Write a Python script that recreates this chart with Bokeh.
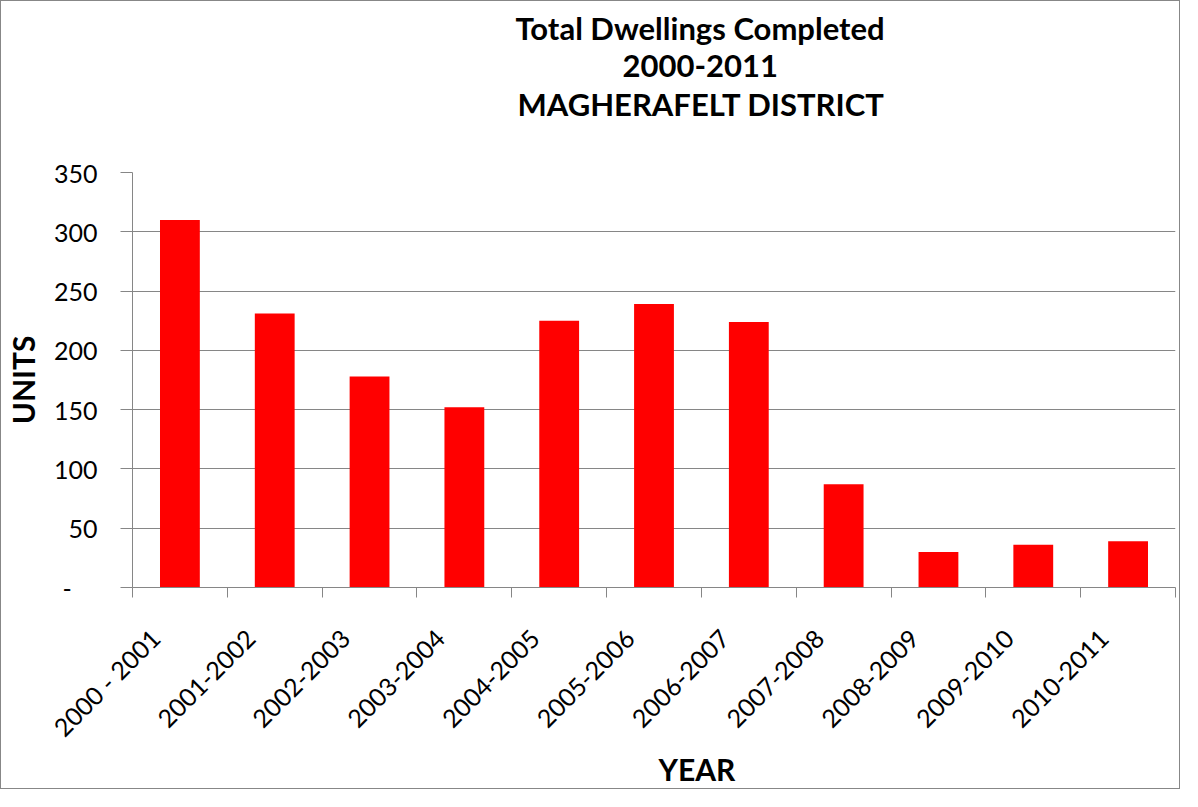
import math
from bokeh.plotting import figure
from bokeh.models import FixedTicker, Range1d, Title, ColumnDataSource
from bokeh.embed import file_html
from bokeh.resources import INLINE

years = ["2000 - 2001", "2001-2002", "2002-2003", "2003-2004", "2004-2005",
         "2005-2006", "2006-2007", "2007-2008", "2008-2009", "2009-2010", "2010-2011"]
units = [310, 231, 178, 152, 225, 239, 224, 87, 30, 36, 39]
y_ticks = [0, 50, 100, 150, 200, 250, 300, 350]
y_tick_labels = ["-\u00a0\u00a0\u00a0\u00a0", "50", "100", "150", "200", "250", "300", "350"]
title_lines = ["Total Dwellings Completed", "2000-2011", "MAGHERAFELT DISTRICT"]
x_title = "YEAR"
y_title = "UNITS"

FONT = "Lato"
GRID = "#868686"

n = len(years)
centers = [i + 0.5 for i in range(n)]
label_pos = [c - 0.26 for c in centers]
bounds = list(range(n + 1))
src = ColumnDataSource(dict(x=centers, top=units, year=years))

p = figure(width=1180, height=789, x_range=Range1d(0, n), y_range=Range1d(0, 350),
           output_backend="svg", toolbar_location=None,
           min_border_left=131, min_border_right=6, min_border_top=171, min_border_bottom=203)
p.styles = {"border": "1px solid #878787"}
p.outline_line_color = None
p.background_fill_color = "white"
p.border_fill_color = "white"

p.vbar(x="x", top="top", bottom=0, width=0.42, source=src, fill_color="#FF0000", line_color=None)

# x axis
xa = p.xaxis[0]
xa.ticker = FixedTicker(ticks=label_pos, minor_ticks=bounds)
xa.major_label_overrides = {c: y for c, y in zip(label_pos, years)}
xa.major_label_orientation = math.pi / 4
xa.major_tick_line_color = None
xa.major_tick_out = 10
xa.major_tick_in = 0
xa.minor_tick_line_color = GRID
xa.minor_tick_out = 10
xa.minor_tick_in = 0
xa.minor_tick_line_width = 1
xa.axis_line_color = GRID
xa.major_label_standoff = 36
xa.major_label_text_font = FONT
xa.major_label_text_font_size = "25px"
xa.major_label_text_color = "black"

# y axis
ya = p.yaxis[0]
ya.ticker = FixedTicker(ticks=y_ticks)
ya.major_label_overrides = {t: l for t, l in zip(y_ticks, y_tick_labels)}
ya.major_tick_line_color = GRID
ya.major_tick_out = 12
ya.major_tick_in = 0
ya.minor_tick_line_color = None
ya.axis_line_color = GRID
ya.major_label_standoff = 23
ya.major_label_text_font = FONT
ya.major_label_text_font_size = "25px"
ya.major_label_text_color = "black"
ya.axis_label = y_title
ya.axis_label_text_font = FONT
ya.axis_label_text_font_style = "bold"
ya.axis_label_text_font_size = "30px"
ya.axis_label_text_color = "black"
ya.axis_label_standoff = 10

p.xgrid.grid_line_color = None
p.ygrid.grid_line_color = GRID
p.ygrid.ticker = FixedTicker(ticks=y_ticks)

# x axis title (below the tick labels)
p.add_layout(Title(text=x_title, align="left", offset=526, vertical_align="top", standoff=-10,
                   text_font=FONT, text_font_style="bold", text_font_size="30px",
                   text_color="black"), "below")

# three-line chart title: spacer nearest the frame, then lines from bottom to top
p.add_layout(Title(text="\u00a0", text_font_size="1px", standoff=44), "above")
offsets = [383, 490, 385]
for txt, off in reversed(list(zip(title_lines, offsets))):
    p.add_layout(Title(text=txt, align="left", offset=off, standoff=6,
                       text_font=FONT, text_font_style="bold", text_font_size="31px",
                       text_color="black"), "above")

open("out.html", "w").write(file_html(p, INLINE))
